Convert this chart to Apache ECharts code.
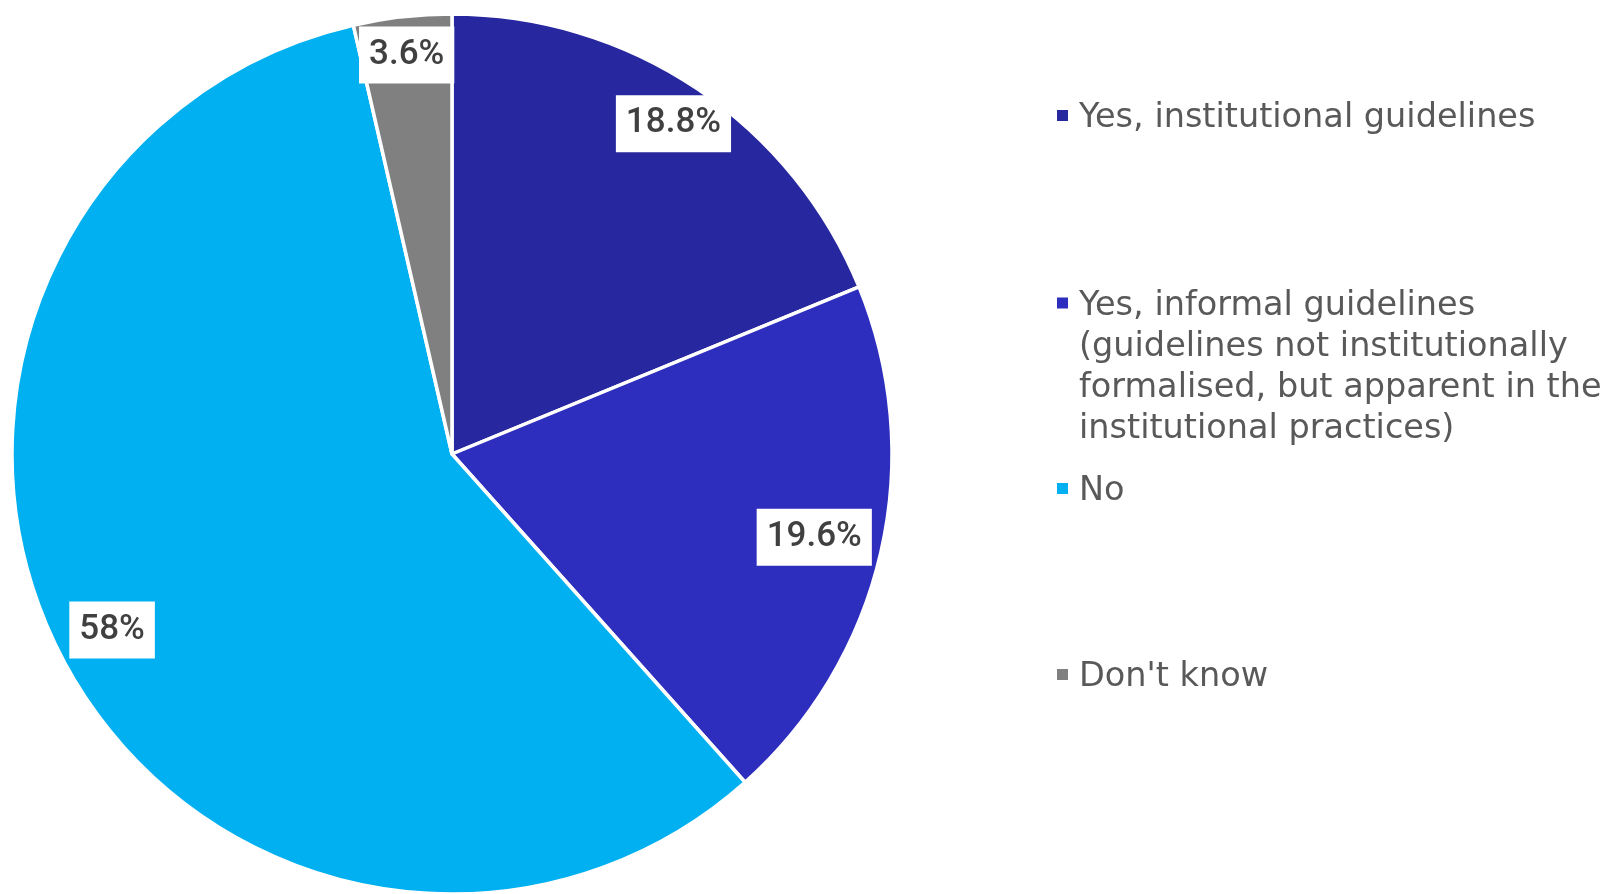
<!DOCTYPE html>
<html><head><meta charset="utf-8">
<script src="https://cdn.jsdelivr.net/npm/echarts@6/dist/echarts.min.js"></script>
<style>html,body{margin:0;padding:0;background:#fff}#c{width:1614px;height:894px}</style>
</head><body><div id="c"></div>
<script>
const categories = [
  'Yes, institutional guidelines',
  'Yes, informal guidelines (guidelines not institutionally formalised, but apparent in the institutional practices)',
  'No',
  "Don't know"
];
const legendLines = [
  ['Yes, institutional guidelines'],
  ['Yes, informal guidelines', '(guidelines not institutionally', 'formalised, but apparent in the', 'institutional practices)'],
  ['No'],
  ["Don't know"]
];
const values = [18.8, 19.6, 58, 3.6];
const colors = ['#27279F', '#2E2EBE', '#00B0F0', '#808080'];

// layout (not data)
const legendIconCenters = [115.5, 303, 488.5, 674.5];
const labelRadiusRatio = [0.897, 0.838, 0.863, 0.906];
const LH = 41;
const ICON_SHIFT = 3;   // marker sits this many px above the text's middle
const center = [452, 454];
const R = 440;

const chart = echarts.init(document.getElementById('c'));

const legends = categories.map((name, i) => {
  const n = legendLines[i].length;
  const lines = new Array(n - 1).fill('').concat(legendLines[i]);
  const blockH = LH * (2 * n - 1);
  const iconH = 13 + 2 * ICON_SHIFT;
  const textCenter = legendIconCenters[i] + ICON_SHIFT;
  return {
    data: [name],
    left: 1055,
    top: textCenter - blockH / 2,
    orient: 'vertical',
    padding: 0,
    icon: 'path://M0,0h13v13h-13Z M0,' + iconH,
    itemWidth: 13,
    itemHeight: iconH,
    selectedMode: false,
    formatter: () => lines.join('\n'),
    textStyle: {
      fontFamily: 'DejaVu Sans',
      fontSize: 33.5,
      lineHeight: LH,
      color: '#595959',
      padding: [0, 0, 0, 5]
    }
  };
});

const labelSeries = categories.map((_, k) => ({
  type: 'pie',
  center: center,
  radius: [R * (2 * labelRadiusRatio[k] - 1), R],
  startAngle: 90,
  clockwise: true,
  silent: true,
  z: 3,
  data: categories.map((n, i) => ({
    name: n,
    value: values[i],
    label: { show: i === k }
  })),
  itemStyle: { color: 'rgba(0,0,0,0)', borderWidth: 0 },
  label: {
    position: 'inside',
    formatter: p => p.value + '%',
    fontFamily: 'Roboto',
    fontWeight: 500,
    fontSize: 35,
    lineHeight: 38,
    color: '#404040',
    backgroundColor: '#ffffff',
    padding: [10, 10, 9, 10]
  },
  labelLine: { show: false }
}));

chart.setOption({
  animation: false,
  legend: legends,
  series: [
    {
      type: 'pie',
      center: center,
      radius: [0, R],
      startAngle: 90,
      clockwise: true,
      silent: true,
      z: 2,
      data: categories.map((n, i) => ({ name: n, value: values[i], itemStyle: { color: colors[i] } })),
      itemStyle: { borderColor: '#ffffff', borderWidth: 3.5 },
      label: { show: false },
      labelLine: { show: false }
    }
  ].concat(labelSeries)
});
</script>
</body></html>
